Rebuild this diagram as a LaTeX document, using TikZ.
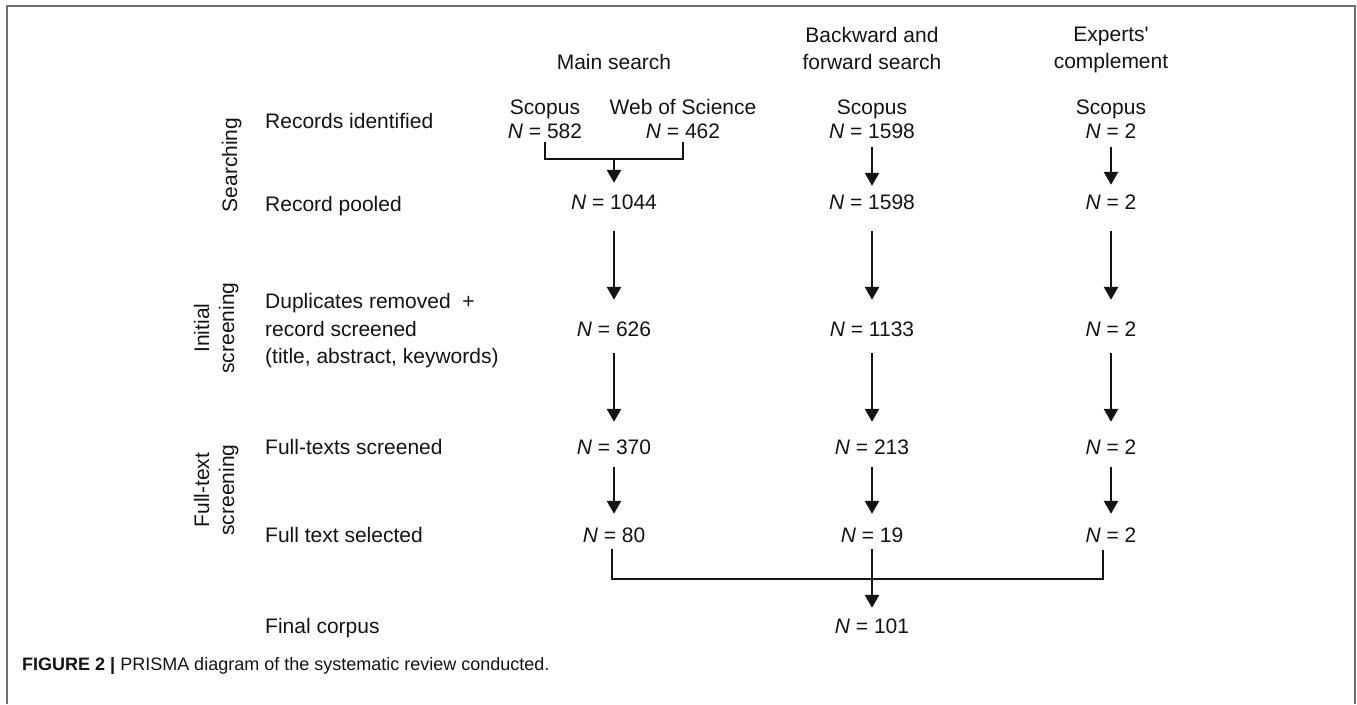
\documentclass[tikz,border=0pt]{standalone}
\usepackage{fontspec}
\setmainfont{Liberation Sans}
\usetikzlibrary{arrows.meta}
\newcommand{\fsmain}{\fontsize{21}{24}\selectfont}
\newcommand{\fscap}{\fontsize{18}{22}\selectfont}
\definecolor{framegray}{RGB}{110,110,110}
\definecolor{ink}{RGB}{20,20,20}
\begin{document}
\begin{tikzpicture}[x=1pt,y=-1pt,
  t/.style={font=\fsmain, text=ink, inner sep=0pt, text height=15pt, text depth=0pt},
  lab/.style={t, anchor=west},
  side/.style={t, rotate=90},
  ln/.style={line width=2.8pt, line join=miter, draw=ink},
  arr/.style={ln, -{Triangle[width=14pt,length=13pt]}},
  frm/.style={line width=2pt, draw=framegray}]
\useasboundingbox (0,0) rectangle (1357,704);
\fill[white] (0,0) rectangle (1357,704);
\draw[frm] (7,704) -- (7,6) -- (1355,6) -- (1355,704);

% column headers
\node[t] (hmain) at (614,62) {Main search};
\node[t] (hbf1) at (872,35) {Backward and};
\node[t] (hbf2) at (872,62) {forward search};
\node[t] (hex1) at (1111,34) {Experts\textquotesingle};
\node[t] (hex2) at (1111,61) {complement};

% sources
\node[t] (ssc) at (545,107) {Scopus};
\node[t] (swos) at (683,107) {Web of Science};
\node[t] (sbf) at (872,107) {Scopus};
\node[t] (sex) at (1111,107) {Scopus};
\node[t] (m0a) at (545,131) {\textit{N} = 582};
\node[t] (m0b) at (683,131) {\textit{N} = 462};
\node[t] (b0) at (872,131) {\textit{N} = 1598};
\node[t] (e0) at (1111,131) {\textit{N} = 2};

% rows
\node[t] (m1) at (614,202) {\textit{N} = 1044};
\node[t] (b1) at (872,202) {\textit{N} = 1598};
\node[t] (e1) at (1111,202) {\textit{N} = 2};
\node[t] (m2) at (614,329) {\textit{N} = 626};
\node[t] (b2) at (872,329) {\textit{N} = 1133};
\node[t] (e2) at (1111,329) {\textit{N} = 2};
\node[t] (m3) at (614,447) {\textit{N} = 370};
\node[t] (b3) at (872,447) {\textit{N} = 213};
\node[t] (e3) at (1111,447) {\textit{N} = 2};
\node[t] (m4) at (614,535) {\textit{N} = 80};
\node[t] (b4) at (872,535) {\textit{N} = 19};
\node[t] (e4) at (1111,535) {\textit{N} = 2};
\node[t] (fin) at (872,626) {\textit{N} = 101};

% row labels
\node[lab] (l1) at (265,121) {Records identified};
\node[lab] (l2) at (265,204) {Record pooled};
\node[lab] (l3a) at (265,301) {Duplicates removed\ \ +};
\node[lab] (l3b) at (265,329) {record screened};
\node[lab] (l3c) at (265,356) {(title, abstract, keywords)};
\node[lab] (l4) at (265,447) {Full-texts screened};
\node[lab] (l5) at (265,535) {Full text selected};
\node[lab] (l6) at (265,626) {Final corpus};

% phase labels
\node[side] (p1) at (229.5,165) {Searching};
\node[side] (p2a) at (201.5,328) {Initial};
\node[side] (p2b) at (226.5,328) {screening};
\node[side] (p3a) at (201.5,490) {Full-text};
\node[side] (p3b) at (226.5,490) {screening};

% caption
\node[font=\fscap, text=ink, inner sep=0pt, text height=13pt, text depth=0pt, anchor=west] (cap) at (22,664)
  {\textbf{FIGURE 2 |} PRISMA diagram of the systematic review conducted.};

% top merge
\coordinate (jtop) at (614,159);
\draw[ln] ([yshift=-3.5pt]m0a.south) |- (jtop) -| ([yshift=-3.5pt]m0b.south);
\draw[arr, shorten >=11.5pt] (jtop) -- (m1);
\draw[arr, shorten <=8.5pt, shorten >=8.5pt] (b0) -- (b1);
\draw[arr, shorten <=8.5pt, shorten >=9.5pt] (e0) -- (e1);

% long arrows
\foreach \a/\b in {m1/m2,b1/b2,e1/e2}
  \draw[arr, shorten <=21.5pt, shorten >=21.5pt] (\a) -- (\b);
\foreach \a/\b in {m2/m3,b2/b3,e2/e3}
  \draw[arr, shorten <=16.5pt, shorten >=17.5pt] (\a) -- (\b);
\foreach \a/\b in {m3/m4,b3/b4,e3/e4}
  \draw[arr, shorten <=12.5pt, shorten >=13.5pt] (\a) -- (\b);

% bottom merge
\coordinate (jbot) at (872,579);
\draw[ln] ([xshift=-2pt,yshift=-6.5pt]m4.south) |- (jbot) -| ([xshift=-8pt,yshift=-7.5pt]e4.south);
\draw[arr, shorten <=6.5pt, shorten >=10.5pt] (b4) -- (fin);
\end{tikzpicture}
\end{document}
